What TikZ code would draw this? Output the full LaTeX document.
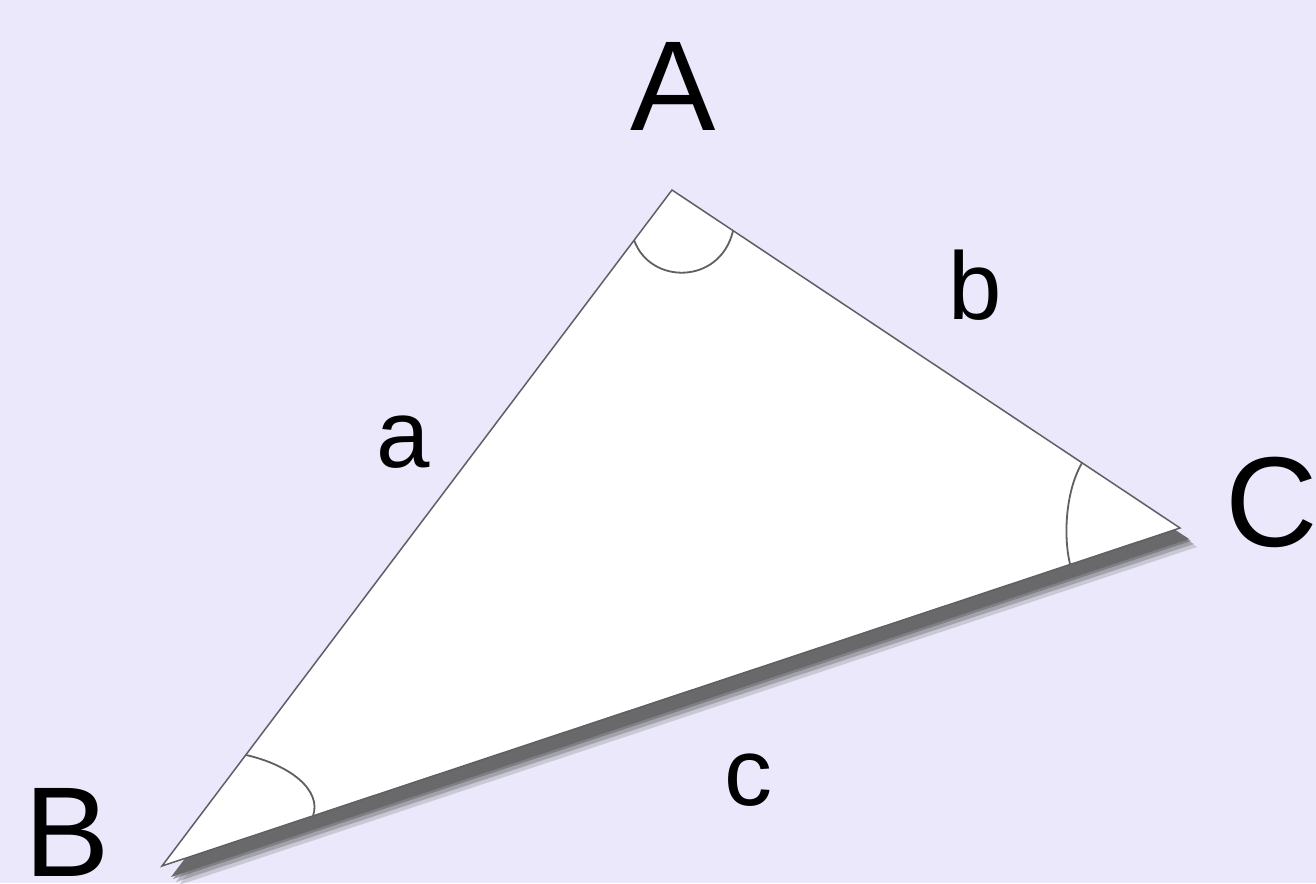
\documentclass[tikz,border=0pt]{standalone}
\usepackage{fontspec}
\setmainfont{Liberation Sans}
\usetikzlibrary{calc}
\definecolor{bg}{RGB}{234,232,250}
\definecolor{edge}{RGB}{95,95,100}
\definecolor{shadowgray}{RGB}{105,105,108}
\begin{document}
\begin{tikzpicture}[x=0.5pt,y=-0.5pt,
  capl/.style={inner sep=0pt,anchor=base,font=\fontsize{64}{64}\selectfont},
  lowl/.style={inner sep=0pt,anchor=base,font=\fontsize{48}{48}\selectfont},
  edgeline/.style={draw=edge,line width=0.75pt,line join=miter},
  anglearc/.style={draw=edge,line width=0.9pt}]
\fill[bg] (0,0) rectangle (1316,883);
\useasboundingbox (0,0) rectangle (1316,883);
\coordinate (A) at (672,190);
\coordinate (B) at (162,866);
\coordinate (C) at (1180,528);
% shadow (soft)
\foreach \dx/\dy/\o in {17/19/0.25,14/16/0.4,11/13/0.6,9/11/1}{
  \fill[fill=shadowgray,opacity=\o] ($(A)+(\dx,\dy)$) -- ($(B)+(\dx,\dy)$) -- ($(C)+(\dx,\dy)$) -- cycle;
}
% triangle
\filldraw[fill=white,edgeline] (A) -- (B) -- (C) -- cycle;
% angle arcs
\draw[anglearc] (634,240) .. controls (650,285) and (720,285) .. (733,231);
\draw[anglearc] (246,755) .. controls (290,765) and (322,790) .. (313,816);
\draw[anglearc] (1082,463) .. controls (1066,490) and (1063,535) .. (1070,564);
% labels
\node[capl] (lA) at (673,130) {A};
\node[capl] (lB) at (67,876) {B};
\node[capl] (lC) at (1272,546) {C};
\node[lowl] (la) at (403,467) {a};
\node[lowl] (lb) at (975,319) {b};
\node[lowl] (lc) at (748,805) {c};
\end{tikzpicture}
\end{document}
